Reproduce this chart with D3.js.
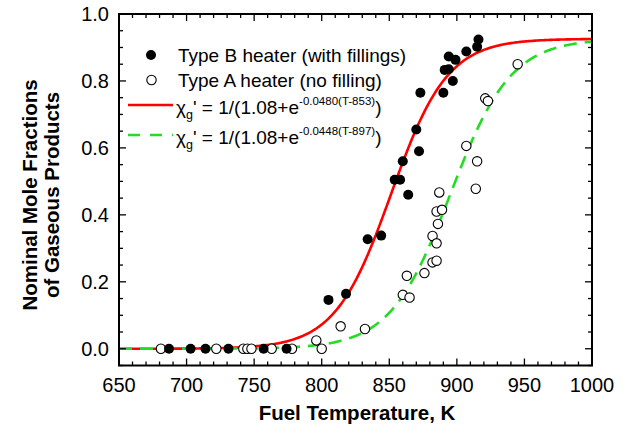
<!DOCTYPE html>
<html><head><meta charset="utf-8">
<script src="https://cdn.jsdelivr.net/npm/d3@7/dist/d3.min.js"></script>
<style>body{margin:0;background:#fff}text{font-family:"Liberation Sans",Arial,sans-serif}</style>
</head><body><svg id="c" width="630" height="434"></svg>
<script>
const typeB_T = [687,703,714,731,757,774,805,818,834,844,854,858,860,864,870,872,873,890,891,894,894,897,899,907,915,916];
const typeB_v = [0,0,0,0,0,0,0.146,0.164,0.327,0.338,0.505,0.505,0.56,0.46,0.655,0.59,0.765,0.765,0.833,0.835,0.873,0.80,0.863,0.888,0.902,0.924];
const typeA_T = [681,722,742,745,748,763,778,796,800,814,832,860,863,865,876,882,885,882,885,885,886,887,889,907,914,915,921,923,945];
const typeA_v = [0,0,0,0,0,0,0,0.025,0,0.067,0.059,0.161,0.218,0.153,0.226,0.258,0.263,0.337,0.315,0.41,0.373,0.467,0.415,0.606,0.478,0.56,0.748,0.74,0.85];
const xTicks = [650,700,750,800,850,900,950,1000];
const yTicks = [0,0.2,0.4,0.6,0.8,1.0];
const fitB = {a:1.08,k:0.0480,T0:853};
const fitA = {a:1.08,k:0.0448,T0:897};

const svg = d3.select("#c");
const L=119,R=592,T=14,B=365.5;
const x = d3.scaleLinear().domain([650,1000]).range([L,R]);
const y = d3.scaleLinear().domain([-0.05,1.0]).range([B,T]);
const g = svg.append("g");

// curves
const Ts = d3.range(650,1000.5,1);
const f = p => t => 1/(p.a+Math.exp(-p.k*(t-p.T0)));
const line = fn => d3.line().x(t=>x(t)).y(t=>y(fn(t)));
svg.append("clipPath").attr("id","cp").append("rect").attr("x",L).attr("y",T).attr("width",R-L).attr("height",B-T);
g.append("path").attr("d",line(f(fitB))(Ts)).attr("fill","none").attr("stroke","#ff0000").attr("stroke-width",2.6).attr("clip-path","url(#cp)");
g.append("path").attr("d",line(f(fitA))(Ts)).attr("fill","none").attr("stroke","#22dd22").attr("stroke-width",2.6).attr("stroke-dasharray","13,8").attr("clip-path","url(#cp)");

// points
g.selectAll(".pa").data(typeA_T).enter().append("circle")
 .attr("cx",(d)=>x(d)).attr("cy",(d,i)=>y(typeA_v[i])).attr("r",4.7)
 .attr("fill","#fff").attr("stroke","#000").attr("stroke-width",1.1);
g.selectAll(".pb").data(typeB_T).enter().append("circle")
 .attr("cx",(d)=>x(d)).attr("cy",(d,i)=>y(typeB_v[i])).attr("r",5).attr("fill","#000");

// axes
const fmtY = d3.format(".1f");
const minorX = d3.range(650,1001,10);
const minorY = d3.range(-0.05,1.001,0.05);
const ax = svg.append("g").attr("stroke","#000").attr("stroke-width",1.3);
ax.append("rect").attr("x",L).attr("y",T).attr("width",R-L).attr("height",B-T).attr("fill","none").attr("stroke-width",2);
minorX.forEach(v=>{
  const isMaj = xTicks.includes(v); const len = isMaj?7:4;
  ax.append("line").attr("x1",x(v)).attr("x2",x(v)).attr("y1",B).attr("y2",B-len);
  ax.append("line").attr("x1",x(v)).attr("x2",x(v)).attr("y1",T).attr("y2",T+len);
});
minorY.forEach(v=>{
  const isMaj = yTicks.some(t=>Math.abs(t-v)<1e-6); const len = isMaj?7:4;
  ax.append("line").attr("y1",y(v)).attr("y2",y(v)).attr("x1",L).attr("x2",L+len);
  ax.append("line").attr("y1",y(v)).attr("y2",y(v)).attr("x1",R).attr("x2",R-len);
});
svg.selectAll(".xl").data(xTicks).enter().append("text").attr("x",d=>x(d)).attr("y",391.5)
 .attr("text-anchor","middle").attr("font-size",20).text(d=>d);
svg.selectAll(".yl").data(yTicks).enter().append("text").attr("x",109).attr("y",d=>y(d)+7)
 .attr("text-anchor","end").attr("font-size",20).text(d=>fmtY(d));

svg.append("text").attr("x",357).attr("y",420).attr("text-anchor","middle").attr("font-size",20.5).attr("font-weight","bold").text("Fuel Temperature, K");
const yt = svg.append("text").attr("transform","translate(0,195) rotate(-90)").attr("text-anchor","middle").attr("font-size",20.5).attr("font-weight","bold");
yt.append("tspan").attr("x",0).attr("y",37).text("Nominal Mole Fractions");
yt.append("tspan").attr("x",0).attr("y",59).text("of Gaseous Products");

// legend
const lg = svg.append("g");
lg.append("circle").attr("cx",151).attr("cy",55).attr("r",5).attr("fill","#000");
lg.append("text").attr("x",178).attr("y",62).attr("font-size",19).text("Type B heater (with fillings)");
lg.append("circle").attr("cx",151.5).attr("cy",80).attr("r",4.7).attr("fill","#fff").attr("stroke","#000").attr("stroke-width",1.1);
lg.append("text").attr("x",178).attr("y",87).attr("font-size",19).text("Type A heater (no filling)");
lg.append("line").attr("x1",128).attr("x2",173).attr("y1",105).attr("y2",105).attr("stroke","#ff0000").attr("stroke-width",2.6);
lg.append("line").attr("x1",128).attr("x2",173).attr("y1",135).attr("y2",135).attr("stroke","#22dd22").attr("stroke-width",2.6).attr("stroke-dasharray","12,10");
function eqn(yb, p){
  const t = lg.append("text").attr("x",176).attr("y",yb).attr("font-size",19);
  t.append("tspan").text("\u03c7");
  t.append("tspan").attr("dy",5).attr("font-size",12.5).text("g");
  t.append("tspan").attr("dy",-5).text("' = 1/(1.08+e");
  t.append("tspan").attr("dy",-9).attr("font-size",11.5).text("-" + p.k.toFixed(4) + "(T-" + p.T0 + ")");
  t.append("tspan").attr("dy",9).text(")");
}
eqn(113.5, fitB);
eqn(143.5, fitA);
</script></body></html>
